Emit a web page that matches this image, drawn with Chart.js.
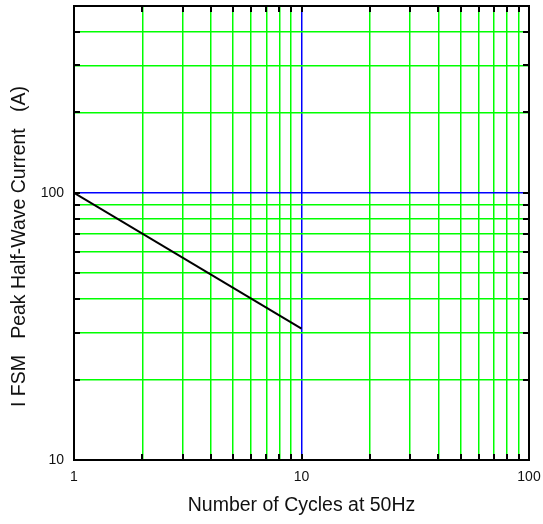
<!DOCTYPE html>
<html>
<head>
<meta charset="utf-8">
<script src="https://cdn.jsdelivr.net/npm/chart.js@4"></script>
<style>
  html, body { margin: 0; padding: 0; background: #fff; }
  #wrap { width: 543px; height: 524px; position: relative; }
</style>
</head>
<body>
<div id="wrap"><canvas id="surgeChart"></canvas></div>
<script>
// Donnees
const cycles = [1, 10];
const peakCurrent = [100, 31];

// Graduations des axes (log)
const xTickValues = [1, 2, 3, 4, 5, 6, 7, 8, 9, 10, 20, 30, 40, 50, 60, 70, 80, 90, 100];
const yTickValues = [10, 20, 30, 40, 50, 60, 70, 80, 90, 100, 200, 300, 400, 500];
const xTickLabels = [1, 10, 100];
const yTickLabels = [10, 100];
const xMajor = [10];
const yMajor = [100];

const FONT = "Arial, 'Liberation Sans', sans-serif";
const GREEN = '#00ff00';
const BLUE = '#0000ff';

// Cadre noir + petites graduations vers l'interieur
const framePlugin = {
    id: 'frame',
    afterDatasetsDraw(chart) {
        const { ctx, chartArea: a, scales } = chart;
        const len = 6;
        ctx.save();
        ctx.strokeStyle = '#000';
        ctx.lineWidth = 2;
        ctx.beginPath();
        xTickValues.forEach(v => {
            const px = Math.round(scales.x.getPixelForValue(v));
            ctx.moveTo(px, a.bottom); ctx.lineTo(px, a.bottom - len);
            ctx.moveTo(px, a.top); ctx.lineTo(px, a.top + len);
        });
        yTickValues.forEach(v => {
            const py = Math.round(scales.y.getPixelForValue(v));
            ctx.moveTo(a.left, py); ctx.lineTo(a.left + len, py);
            ctx.moveTo(a.right, py); ctx.lineTo(a.right - len, py);
        });
        ctx.stroke();
        ctx.strokeRect(a.left, a.top, a.right - a.left, a.bottom - a.top);
        ctx.restore();
    }
};

const ctx = document.getElementById('surgeChart');
new Chart(ctx, {
    type: 'scatter',
    data: {
        datasets: [{
            data: cycles.map((c, i) => ({ x: c, y: peakCurrent[i] })),
            showLine: true,
            borderColor: '#000',
            borderWidth: 2,
            pointRadius: 0,
            tension: 0
        }]
    },
    options: {
        responsive: true,
        maintainAspectRatio: false,
        animation: false,
        layout: { padding: { top: 6, right: 14, left: 0, bottom: 0 } },
        plugins: {
            legend: { display: false },
            tooltip: { enabled: false }
        },
        scales: {
            x: {
                type: 'logarithmic',
                min: 1,
                max: 100,
                afterBuildTicks: (scale) => { scale.ticks = xTickValues.map(v => ({ value: v })); },
                afterFit: (scale) => {
                    scale.height = 64;
                    scale.paddingLeft = 0;
                    scale.paddingRight = 0;
                },
                border: { display: false },
                grid: {
                    drawTicks: false,
                    lineWidth: 1.5,
                    color: xTickValues.map(v => xMajor.includes(v) ? BLUE : GREEN)
                },
                ticks: {
                    autoSkip: false,
                    maxRotation: 0,
                    padding: 9,
                    color: '#111',
                    font: { family: FONT, size: 14 },
                    callback: (v) => xTickLabels.includes(v) ? String(v) : ''
                },
                title: {
                    display: true,
                    text: 'Number of Cycles at 50Hz',
                    color: '#111',
                    font: { family: FONT, size: 19.5 },
                    padding: { top: 0, bottom: 7 }
                }
            },
            y: {
                type: 'logarithmic',
                min: 10,
                max: 500,
                afterBuildTicks: (scale) => { scale.ticks = yTickValues.map(v => ({ value: v })); },
                afterFit: (scale) => {
                    scale.width = 74;
                    scale.paddingTop = 0;
                    scale.paddingBottom = 0;
                },
                border: { display: false },
                grid: {
                    drawTicks: false,
                    lineWidth: 1.5,
                    color: yTickValues.map(v => yMajor.includes(v) ? BLUE : GREEN)
                },
                ticks: {
                    autoSkip: false,
                    padding: 10,
                    color: '#111',
                    font: { family: FONT, size: 14 },
                    callback: (v) => yTickLabels.includes(v) ? String(v) : ''
                },
                title: {
                    display: true,
                    text: 'I FSM   Peak Half-Wave Current   (A)     ',
                    color: '#111',
                    font: { family: FONT, size: 19.5 },
                    padding: { top: 8, bottom: 0 }
                }
            }
        }
    },
    plugins: [framePlugin]
});
</script>
</body>
</html>
